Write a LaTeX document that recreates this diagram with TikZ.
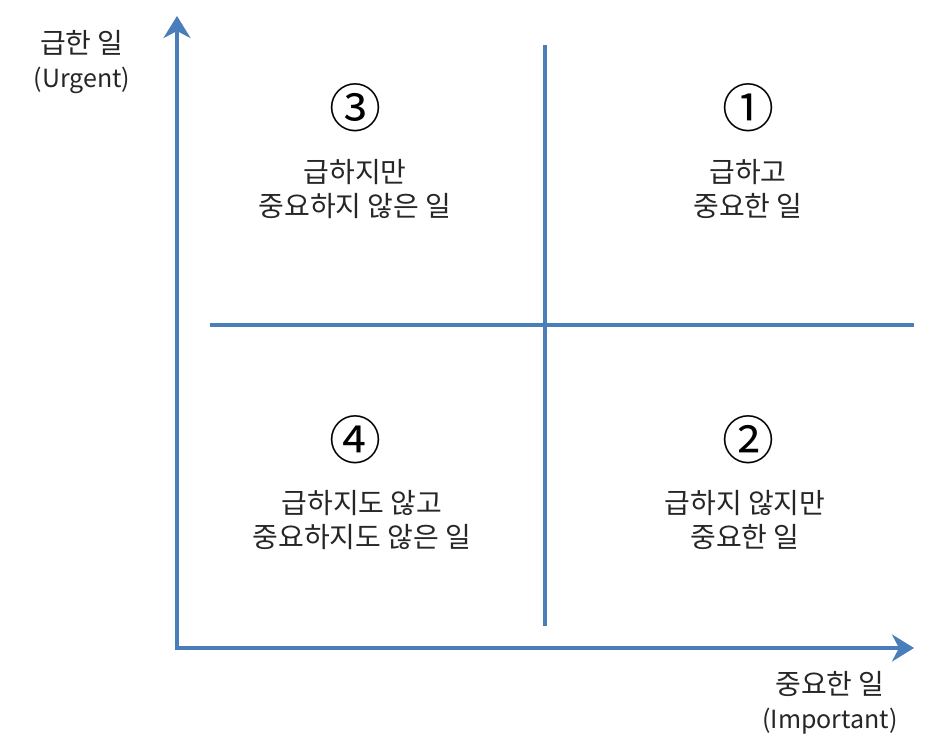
\documentclass[tikz,border=0pt]{standalone}
\usepackage{fontspec}
\setmainfont{Noto Sans CJK KR}
\usetikzlibrary{arrows.meta}
\definecolor{axblue}{HTML}{4A7EBB}
\newcommand{\lt}[1]{{\fontsize{25}{30}\selectfont #1}}
\begin{document}
\begin{tikzpicture}[x=1pt,y=-1pt,
  axis/.style={draw=axblue,line width=4.5pt,-{Stealth[length=22pt,width=27pt,inset=7pt]}},
  divider/.style={draw=axblue,line width=3.5pt},
  lbl/.style={font=\fontsize{28}{34}\selectfont,align=center,text=black!85,inner sep=0pt},
  num/.style={font=\fontsize{52}{52}\selectfont\addfontfeatures{Scale=1},inner sep=0pt}]
\useasboundingbox (0,0) rectangle (929,746);
\coordinate (o) at (177,648);
\coordinate (ytop) at (177,16);
\coordinate (xend) at (914,648);
\draw[axis] (o) -- (ytop);
\draw[axis] (175,648) -- (xend);
\coordinate (h1) at (210,325);
\coordinate (h2) at (914,325);
\coordinate (v1) at (545,45);
\coordinate (v2) at (545,626);
\draw[divider] (h1) -- (h2);
\draw[divider] (v1) -- (v2);
\node[lbl] (ylab) at (82,62) {급한 일\\\lt{(Urgent)}};
\node[lbl] (xlab) at (830,703) {중요한 일\\\lt{(Important)}};
\node[num] (n3) at (355,108) {③};
\node[num] (n1) at (748,108) {①};
\node[num] (n4) at (355,440) {④};
\node[num] (n2) at (748,440) {②};
\node[lbl] (t3) at (355,189) {급하지만\\중요하지 않은 일};
\node[lbl] (t1) at (748,189) {급하고\\중요한 일};
\node[lbl] (t4) at (362,520) {급하지도 않고\\중요하지도 않은 일};
\node[lbl] (t2) at (745,520) {급하지 않지만\\중요한 일};
\end{tikzpicture}
\end{document}
